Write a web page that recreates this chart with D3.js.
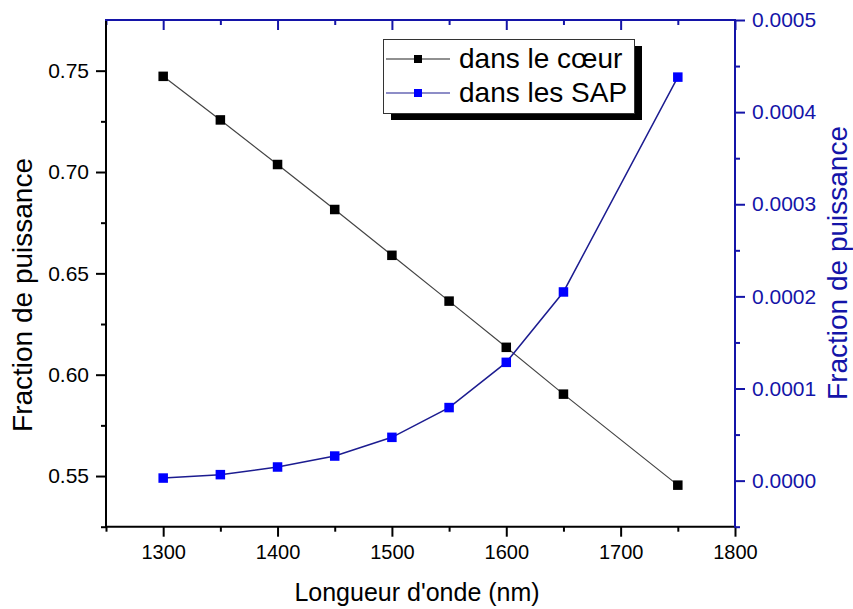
<!DOCTYPE html>
<html>
<head>
<meta charset="utf-8">
<script src="https://cdn.jsdelivr.net/npm/d3@7"></script>
<style>
  html, body { margin: 0; padding: 0; background: #fff; }
  svg { display: block; font-family: Arial, "Liberation Sans", sans-serif; }
</style>
</head>
<body>
<svg id="chart" width="853" height="609"></svg>
<script>
// ---- data ----
const coreWavelengths = [1300, 1350, 1400, 1450, 1500, 1550, 1600, 1650, 1750];
const coreFraction    = [0.7472, 0.7257, 0.7037, 0.6815, 0.6589, 0.6363, 0.6135, 0.5904, 0.5455];
const sapWavelengths  = [1300, 1350, 1400, 1450, 1500, 1550, 1600, 1650, 1750];
const sapFraction     = [0.0000028, 0.0000065, 0.0000148, 0.0000267, 0.000047, 0.0000793, 0.0001284, 0.0002048, 0.000438];
const xTicks      = [1300, 1400, 1500, 1600, 1700, 1800];
const xMinorTicks = [1250, 1350, 1450, 1550, 1650, 1750];
const yLeftTicks  = [0.55, 0.60, 0.65, 0.70, 0.75];
const yLeftMinor  = [0.525, 0.575, 0.625, 0.675, 0.725];
const yRightTicks = [0.0000, 0.0001, 0.0002, 0.0003, 0.0004, 0.0005];
const yRightMinor = [-0.00005, 0.00005, 0.00015, 0.00025, 0.00035, 0.00045];
const legendLabels = ["dans le cœur", "dans les SAP"];
const xTitle = "Longueur d'onde (nm)";
const yTitle = "Fraction de puissance";

// ---- layout ----
const L = 106, R = 735, T = 20, B = 526.7;
const BLUE_AX = "#1414a8", BLUE_MK = "#0000ff", BLUE_LN = "#1c1c90";

const svg = d3.select("#chart");
const x = d3.scaleLinear().domain([1250, 1800]).range([L, R]);
const yL = d3.scaleLinear().domain([0.525, 0.775]).range([B, T]);
const yR = d3.scaleLinear().domain([-0.00005, 0.0005]).range([B, T]);

function styleAxis(g, color, fs) {
  g.selectAll(".domain").remove();
  g.selectAll(".tick line").attr("stroke", color).attr("stroke-width", 2);
  g.selectAll(".tick text").attr("fill", color).style("font-size", fs + "px")
    .style("font-family", "Arial, 'Liberation Sans', sans-serif");
}

// bottom axis
svg.append("g").attr("transform", `translate(0,${B})`)
  .call(d3.axisBottom(x).tickValues(xTicks).tickFormat(d3.format("d")).tickSize(10).tickPadding(8))
  .call(g => styleAxis(g, "#000", 20));
svg.append("g").attr("transform", `translate(0,${B})`)
  .call(d3.axisBottom(x).tickValues(xMinorTicks).tickFormat("").tickSize(5))
  .call(g => styleAxis(g, "#000", 20));

// top axis (mirror, inward)
svg.append("g").attr("transform", `translate(0,${T})`)
  .call(d3.axisTop(x).tickValues(xTicks).tickFormat("").tickSize(-10))
  .call(g => styleAxis(g, BLUE_AX, 20));
svg.append("g").attr("transform", `translate(0,${T})`)
  .call(d3.axisTop(x).tickValues(xMinorTicks).tickFormat("").tickSize(-5))
  .call(g => styleAxis(g, BLUE_AX, 20));

// left axis
svg.append("g").attr("transform", `translate(${L},0)`)
  .call(d3.axisLeft(yL).tickValues(yLeftTicks).tickFormat(d3.format(".2f")).tickSize(10).tickPadding(7))
  .call(g => styleAxis(g, "#000", 21));
svg.append("g").attr("transform", `translate(${L},0)`)
  .call(d3.axisLeft(yL).tickValues(yLeftMinor).tickFormat("").tickSize(5))
  .call(g => styleAxis(g, "#000", 21));

// right axis
svg.append("g").attr("transform", `translate(${R},0)`)
  .call(d3.axisRight(yR).tickValues(yRightTicks).tickFormat(d3.format(".4f")).tickSize(10).tickPadding(7))
  .call(g => styleAxis(g, BLUE_AX, 21));
svg.append("g").attr("transform", `translate(${R},0)`)
  .call(d3.axisRight(yR).tickValues(yRightMinor).tickFormat("").tickSize(5))
  .call(g => styleAxis(g, BLUE_AX, 21));

// frame lines
svg.append("line").attr("x1", L).attr("x2", L).attr("y1", T).attr("y2", B + 1).attr("stroke", "#000").attr("stroke-width", 2);
svg.append("line").attr("x1", L - 1).attr("x2", R).attr("y1", B).attr("y2", B).attr("stroke", "#000").attr("stroke-width", 2);
svg.append("line").attr("x1", L - 1).attr("x2", R + 1).attr("y1", T).attr("y2", T).attr("stroke", BLUE_AX).attr("stroke-width", 2);
svg.append("line").attr("x1", R).attr("x2", R).attr("y1", T).attr("y2", B + 1).attr("stroke", BLUE_AX).attr("stroke-width", 2);

// series
const core = coreWavelengths.map((w, i) => [w, coreFraction[i]]);
const sap = sapWavelengths.map((w, i) => [w, sapFraction[i]]);

svg.append("path").datum(core)
  .attr("d", d3.line().x(d => x(d[0])).y(d => yL(d[1])))
  .attr("fill", "none").attr("stroke", "#444").attr("stroke-width", 1.2);
svg.append("path").datum(sap)
  .attr("d", d3.line().x(d => x(d[0])).y(d => yR(d[1])))
  .attr("fill", "none").attr("stroke", BLUE_LN).attr("stroke-width", 1.5);

const MS = 9.5;
svg.append("g").selectAll("rect").data(core).join("rect")
  .attr("x", d => x(d[0]) - MS / 2).attr("y", d => yL(d[1]) - MS / 2)
  .attr("width", MS).attr("height", MS).attr("fill", "#000");
svg.append("g").selectAll("rect").data(sap).join("rect")
  .attr("x", d => x(d[0]) - MS / 2).attr("y", d => yR(d[1]) - MS / 2)
  .attr("width", MS).attr("height", MS).attr("fill", BLUE_MK);

// titles
svg.append("text").attr("x", 417).attr("y", 601).attr("text-anchor", "middle")
  .style("font-size", "25px").attr("fill", "#000").text(xTitle);
svg.append("text").attr("transform", `translate(32,295) rotate(-90)`).attr("text-anchor", "middle")
  .style("font-size", "28px").attr("fill", "#000").text(yTitle);
svg.append("text").attr("transform", `translate(847,263) rotate(-90)`).attr("text-anchor", "middle")
  .style("font-size", "28px").attr("fill", BLUE_AX).text(yTitle);

// legend
const lg = svg.append("g");
lg.append("rect").attr("x", 391).attr("y", 46).attr("width", 251).attr("height", 74).attr("fill", "#000");
lg.append("rect").attr("x", 383.5).attr("y", 39.5).attr("width", 251).attr("height", 74)
  .attr("fill", "#fff").attr("stroke", "#333").attr("stroke-width", 1);
const legColors = [["#222", "#000"], [BLUE_LN, BLUE_MK]];
[59, 93].forEach((cy, i) => {
  lg.append("line").attr("x1", 386).attr("x2", 450).attr("y1", cy).attr("y2", cy)
    .attr("stroke", legColors[i][0]).attr("stroke-width", 1.2);
  lg.append("rect").attr("x", 414).attr("y", cy - 4).attr("width", 8).attr("height", 8).attr("fill", legColors[i][1]);
  lg.append("text").attr("x", 459).attr("y", cy + 8.5).style("font-size", "28px")
    .attr("fill", "#000").text(legendLabels[i]);
});
</script>
</body>
</html>
